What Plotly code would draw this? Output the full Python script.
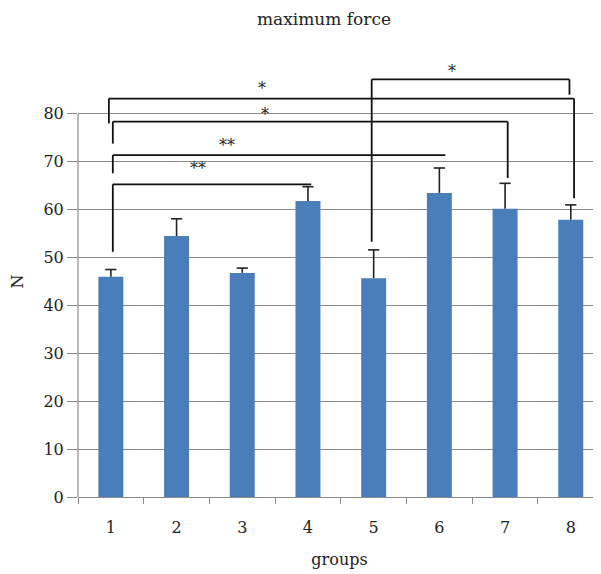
import plotly.graph_objects as go

# ---- data ----
groups = ["1", "2", "3", "4", "5", "6", "7", "8"]
means = [46.0, 54.5, 46.8, 61.8, 45.7, 63.5, 60.2, 57.9]
sems = [1.5, 3.6, 1.0, 3.0, 5.9, 5.2, 5.3, 3.1]
y_ticks = [0, 10, 20, 30, 40, 50, 60, 70, 80]

# significance brackets (category index positions, 0-based, and y levels)
br_x0 = [-0.03, 0.03, 0.03, 0.03, 3.97]
br_x1 = [7.05, 6.04, 5.09, 3.05, 6.98]
br_level = [83.2, 78.4, 71.4, 65.3, 87.2]
br_left_end = [78.0, 73.8, 67.6, 51.2, 53.3]
br_right_end = [62.4, 66.6, None, None, 84.0]
br_label = ["*", "*", "**", "**", "*"]
br_label_x = [2.30, 2.34, 1.77, 1.32, 5.19]
br_label_y = [85.4, 79.9, 73.3, 68.5, 88.9]

FONT = "DejaVu Serif"
BAR = "#4A7EBB"
GRID = "#8a8a8a"

fig = go.Figure()
fig.add_trace(go.Bar(
    x=groups, y=means, marker=dict(color=BAR, line=dict(width=0)),
    error_y=dict(type="data", symmetric=False, array=sems,
                 arrayminus=[0] * len(sems), width=0, thickness=1.6,
                 color="#222222"),
    width=0.38, showlegend=False, hoverinfo="skip"))
fig.add_trace(go.Scatter(
    x=groups, y=[m + s for m, s in zip(means, sems)], mode="markers",
    marker=dict(symbol="line-ew", size=8, line=dict(width=1.6, color="#222222")),
    showlegend=False, hoverinfo="skip"))

shapes = []
for x0, x1, lv, le, re in zip(br_x0, br_x1, br_level, br_left_end, br_right_end):
    shapes.append(dict(type="line", xref="x", yref="y", x0=x0, x1=x1, y0=lv, y1=lv,
                       line=dict(color="#111111", width=1.8)))
    shapes.append(dict(type="line", xref="x", yref="y", x0=x0, x1=x0, y0=lv, y1=le,
                       line=dict(color="#111111", width=1.8)))
    if re is not None:
        shapes.append(dict(type="line", xref="x", yref="y", x0=x1, x1=x1, y0=lv, y1=re,
                           line=dict(color="#111111", width=1.8)))
# y axis line only spanning 0..80
shapes.append(dict(type="line", xref="paper", yref="y", x0=0, x1=0,
                   y0=y_ticks[0], y1=y_ticks[-1], line=dict(color=GRID, width=1.2)))

annotations = []
for lx, ly, txt in zip(br_label_x, br_label_y, br_label):
    annotations.append(dict(x=lx, y=ly, xref="x", yref="y", text=txt, showarrow=False,
                            font=dict(family=FONT, size=16, color="#222222")))

# page body has an 8px margin (top/left), so the figure is sized to compensate
W, H = 593, 566
fig.update_layout(
    width=W, height=H,
    margin=dict(l=70, r=0, t=58, b=77, autoexpand=False),
    paper_bgcolor="white", plot_bgcolor="white",
    title=dict(text="maximum force", x=316 / W, xref="container", xanchor="center",
               y=1 - 11 / H, yref="container", yanchor="middle",
               font=dict(family=FONT, size=17, color="#222222")),
    font=dict(family=FONT, size=16, color="#222222"),
    shapes=shapes, annotations=annotations,
    bargap=0.62,
)
fig.update_xaxes(
    type="category", range=[-0.5, 7.46], tickson="boundaries", automargin=False,
    ticks="outside", ticklen=6, tickcolor=GRID, tickwidth=1.2,
    showline=True, linecolor=GRID, linewidth=1.2, showgrid=False,
    ticklabelstandoff=16,
    title=dict(text="groups", standoff=17, font=dict(family=FONT, size=16)),
    tickfont=dict(family=FONT, size=16),
)
fig.update_yaxes(
    range=[0, 90], tickvals=y_ticks, ticks="outside", ticklen=10, automargin=False,
    tickcolor=GRID, tickwidth=1.2, showgrid=True, gridcolor=GRID, gridwidth=1.2,
    zeroline=False, showline=False,
    title=dict(text="N", standoff=20, font=dict(family=FONT, size=16)),
    tickfont=dict(family=FONT, size=16),
)
fig.write_html("out.html")
